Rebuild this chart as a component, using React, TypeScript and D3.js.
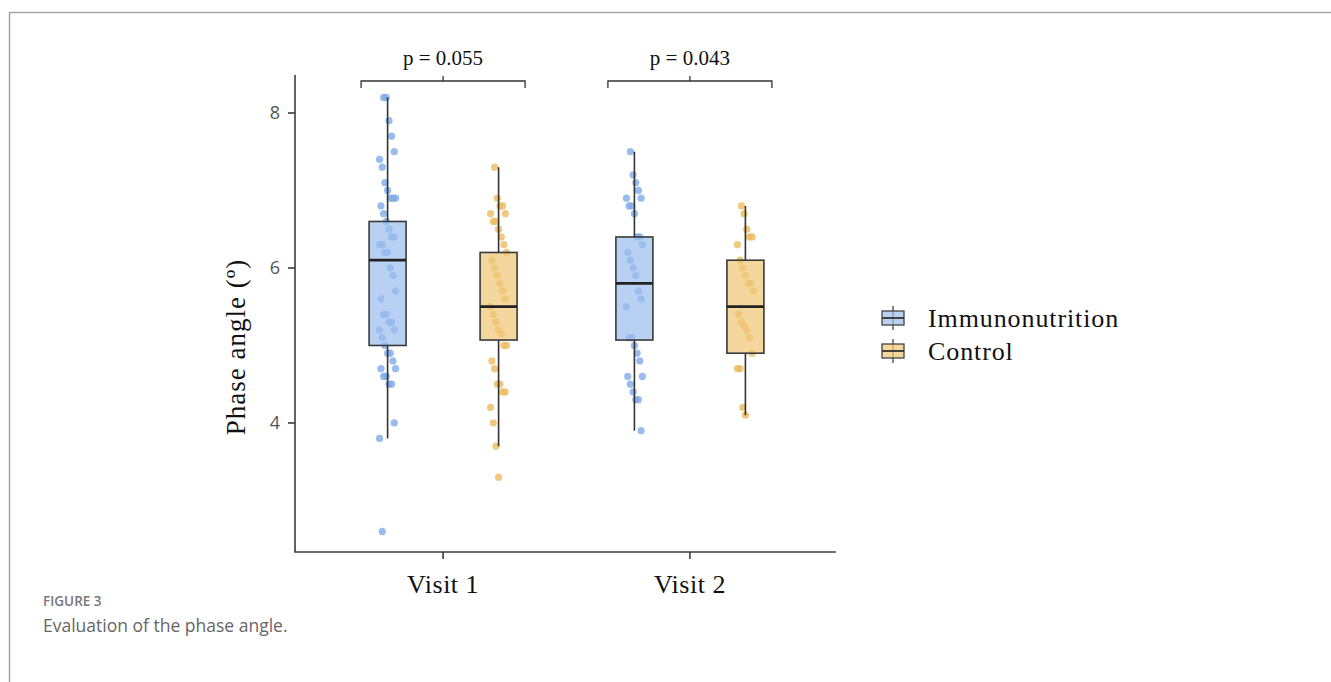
import React, { useEffect, useRef } from "react";
import * as d3 from "d3";

// Phase angle by visit and group (boxplot + jittered points)
const visits = ["Visit 1", "Visit 2"];
const groups = ["Immunonutrition", "Control"];
const yTicks = [4, 6, 8];
const pLabels = ["p = 0.055", "p = 0.043"];

// box stats: [lower whisker, Q1, median, Q3, upper whisker]
const v1ImmunoBox = [3.8, 5.0, 6.1, 6.6, 8.2];
const v1ControlBox = [3.7, 5.07, 5.5, 6.2, 7.3];
const v2ImmunoBox = [3.9, 5.07, 5.8, 6.4, 7.5];
const v2ControlBox = [4.1, 4.9, 5.5, 6.1, 6.8];

// individual observations
const v1Immuno = [8.2, 8.2, 7.9, 7.7, 7.5, 7.4, 7.3, 7.1, 7.0, 6.9, 6.9, 6.9, 6.8, 6.7, 6.6, 6.5, 6.4, 6.4, 6.3, 6.3, 6.2, 6.2, 6.0, 5.9, 5.7, 5.6, 5.4, 5.4, 5.3, 5.3, 5.2, 5.2, 5.1, 5.0, 4.9, 4.9, 4.8, 4.7, 4.7, 4.6, 4.6, 4.5, 4.5, 4.0, 3.8, 2.6];
const v1Control = [7.3, 6.9, 6.8, 6.8, 6.7, 6.7, 6.6, 6.6, 6.5, 6.4, 6.3, 6.2, 6.1, 6.0, 5.9, 5.8, 5.7, 5.6, 5.5, 5.4, 5.3, 5.2, 5.15, 5.0, 5.0, 4.8, 4.7, 4.5, 4.5, 4.4, 4.4, 4.2, 4.0, 3.7, 3.3];
const v2Immuno = [7.5, 7.2, 7.1, 7.0, 6.9, 6.9, 6.8, 6.8, 6.7, 6.4, 6.4, 6.3, 6.2, 6.1, 6.0, 5.9, 5.7, 5.6, 5.5, 5.1, 5.1, 5.0, 4.9, 4.8, 4.6, 4.6, 4.5, 4.4, 4.3, 4.3, 3.9];
const v2Control = [6.8, 6.7, 6.5, 6.4, 6.4, 6.3, 6.1, 6.0, 5.9, 5.8, 5.8, 5.7, 5.4, 5.3, 5.25, 5.2, 5.1, 4.9, 4.7, 4.7, 4.2, 4.1];

const W = 1331;
const H = 682;
const serif = "'Liberation Serif', 'Times New Roman', serif";
const sans = "'Open Sans', 'Noto Sans', sans-serif";

const boxFill: Record<string, string> = { Immunonutrition: "#9dbfee", Control: "#f0c877" };
const dotFill: Record<string, string> = { Immunonutrition: "#7faae8", Control: "#ecbb5e" };

export default function App() {
  const svgRef = useRef<SVGSVGElement | null>(null);

  useEffect(() => {
    const svg = d3.select(svgRef.current);
    svg.selectAll("*").remove();

    const cells = [
      { visit: visits[0], group: groups[0], box: v1ImmunoBox, pts: v1Immuno },
      { visit: visits[0], group: groups[1], box: v1ControlBox, pts: v1Control },
      { visit: visits[1], group: groups[0], box: v2ImmunoBox, pts: v2Immuno },
      { visit: visits[1], group: groups[1], box: v2ControlBox, pts: v2Control },
    ];

    const x0 = 295, x1 = 838, yTop = 75, yBot = 552;
    const x = d3.scalePoint<string>().domain(visits).range([x0, x1]).padding(0.6);
    const dodge = d3.scaleBand<string>().domain(groups).range([-111, 111]);
    const y = d3.scaleLinear().domain([2.335, 8.49]).range([yBot, yTop]);
    const boxW = dodge.bandwidth() / 3;
    const cx = (v: string, g: string) => (x(v) as number) + (dodge(g) as number) + dodge.bandwidth() / 2;

    // frame of the figure panel
    svg.append("line").attr("x1", 9).attr("x2", W).attr("y1", 12.5).attr("y2", 12.5)
      .attr("stroke", "#a6a6a6").attr("stroke-width", 1.5);
    svg.append("line").attr("x1", 9.5).attr("x2", 9.5).attr("y1", 12).attr("y2", H)
      .attr("stroke", "#a6a6a6").attr("stroke-width", 1.5);

    // points (behind the boxes)
    cells.forEach((c) => {
      svg.append("g").selectAll("circle").data(c.pts).enter().append("circle")
        .attr("cx", (d, i) => cx(c.visit, c.group) + ((((i * 7919 + 3) % 13) - 6) / 6) * 8)
        .attr("cy", (d) => y(d))
        .attr("r", 3.6)
        .attr("fill", dotFill[c.group])
        .attr("fill-opacity", 0.8);
    });

    // whiskers, boxes, medians
    cells.forEach((c) => {
      const xc = cx(c.visit, c.group);
      const [lo, q1, med, q3, hi] = c.box;
      const g = svg.append("g");
      g.append("line").attr("x1", xc).attr("x2", xc).attr("y1", y(hi)).attr("y2", y(q3))
        .attr("stroke", "#333").attr("stroke-width", 1.6);
      g.append("line").attr("x1", xc).attr("x2", xc).attr("y1", y(q1)).attr("y2", y(lo))
        .attr("stroke", "#333").attr("stroke-width", 1.6);
      g.append("rect").attr("x", xc - boxW / 2).attr("width", boxW)
        .attr("y", y(q3)).attr("height", y(q1) - y(q3))
        .attr("fill", boxFill[c.group]).attr("fill-opacity", 0.72)
        .attr("stroke", "#3a3a3a").attr("stroke-width", 1.6);
      g.append("line").attr("x1", xc - boxW / 2).attr("x2", xc + boxW / 2)
        .attr("y1", y(med)).attr("y2", y(med))
        .attr("stroke", "#222").attr("stroke-width", 2.8);
    });

    // axes
    const axisCol = "#3c3c3c";
    svg.append("line").attr("x1", x0).attr("x2", x0).attr("y1", yTop).attr("y2", yBot)
      .attr("stroke", axisCol).attr("stroke-width", 1.6);
    svg.append("line").attr("x1", x0 - 0.8).attr("x2", 836).attr("y1", yBot).attr("y2", yBot)
      .attr("stroke", axisCol).attr("stroke-width", 1.6);

    yTicks.forEach((t) => {
      svg.append("line").attr("x1", x0 - 7).attr("x2", x0).attr("y1", y(t)).attr("y2", y(t))
        .attr("stroke", axisCol).attr("stroke-width", 1.6);
      svg.append("text").attr("x", 280).attr("y", y(t)).attr("dy", "0.36em")
        .attr("text-anchor", "end").attr("font-family", sans).attr("font-size", 18)
        .attr("fill", "#555").text(t);
    });

    visits.forEach((v, i) => {
      const xv = x(v) as number;
      svg.append("line").attr("x1", xv).attr("x2", xv).attr("y1", yBot).attr("y2", yBot + 7)
        .attr("stroke", axisCol).attr("stroke-width", 1.6);
      svg.append("text").attr("x", xv).attr("y", 593).attr("text-anchor", "middle")
        .attr("font-family", serif).attr("font-size", 26).attr("letter-spacing", 0.5)
        .attr("fill", "#111").text(v);

      // significance bracket
      const bl = xv - 82, br = xv + 82, by = 81;
      svg.append("path")
        .attr("d", `M${bl},${by + 7}V${by}H${br}V${by + 7}M${xv},${by}V${by - 5}`)
        .attr("fill", "none").attr("stroke", "#333").attr("stroke-width", 1.3);
      svg.append("text").attr("x", xv).attr("y", 65).attr("text-anchor", "middle")
        .attr("font-family", serif).attr("font-size", 21).attr("fill", "#111").text(pLabels[i]);
    });

    // y axis title
    svg.append("text")
      .attr("transform", `translate(245,${347}) rotate(-90)`)
      .attr("text-anchor", "middle")
      .attr("font-family", serif).attr("font-size", 27).attr("letter-spacing", 1)
      .attr("fill", "#111")
      .text("Phase angle (º)");

    // legend
    groups.forEach((g, i) => {
      const ly = 318 + i * 33;
      const lx = 893;
      const lg = svg.append("g");
      lg.append("line").attr("x1", lx).attr("x2", lx).attr("y1", ly - 12).attr("y2", ly + 12)
        .attr("stroke", "#444").attr("stroke-width", 1.3);
      lg.append("rect").attr("x", lx - 11).attr("y", ly - 7).attr("width", 22).attr("height", 14)
        .attr("fill", boxFill[g]).attr("fill-opacity", 0.72)
        .attr("stroke", "#444").attr("stroke-width", 1.3);
      lg.append("line").attr("x1", lx - 11).attr("x2", lx + 11).attr("y1", ly).attr("y2", ly)
        .attr("stroke", "#333").attr("stroke-width", 1.8);
      lg.append("text").attr("x", 928).attr("y", ly).attr("dy", "0.35em")
        .attr("font-family", serif).attr("font-size", 26).attr("letter-spacing", 0.9)
        .attr("fill", "#111").text(g);
    });

    // caption
    svg.append("text").attr("x", 43).attr("y", 606)
      .attr("font-family", sans).attr("font-size", 13.5).attr("font-weight", 600)
      .attr("fill", "#777").text("FIGURE 3");
    svg.append("text").attr("x", 43).attr("y", 632)
      .attr("font-family", sans).attr("font-size", 17.5)
      .attr("fill", "#666").text("Evaluation of the phase angle.");
  }, []);

  return (
    <svg
      ref={svgRef}
      width={W}
      height={H}
      style={{ position: "absolute", left: 0, top: 0, display: "block", background: "#fff" }}
    />
  );
}
